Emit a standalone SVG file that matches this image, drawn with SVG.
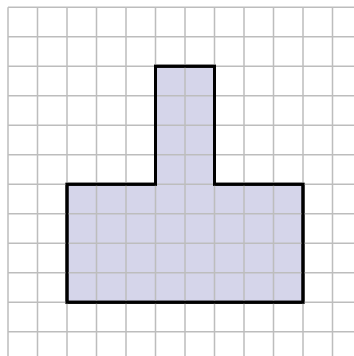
<svg xmlns="http://www.w3.org/2000/svg" width="354" height="356" viewBox="0 0 354 356">
<style>
.g{stroke:#bdbdbd;stroke-width:1.5;fill:none}
.s{fill:#d5d5ea;stroke:#000;stroke-width:3;stroke-linejoin:miter}
</style>
<rect width="354" height="356" fill="#fff"/>
<g id="shape">
<path class="s" d="M67 184.3 H155.5 V66.3 H214.5 V184.3 H303 V302.3 H67 Z"/>
</g>
<g id="grid" class="g">
<path d="M8 7.3V356M37.5 7.3V356M67 7.3V356M96.5 7.3V356M126 7.3V356M155.5 7.3V356M185 7.3V356M214.5 7.3V356M244 7.3V356M273.5 7.3V356M303 7.3V356M332.5 7.3V356"/>
<path d="M8 7.3H354M8 36.8H354M8 66.3H354M8 95.8H354M8 125.3H354M8 154.8H354M8 184.3H354M8 213.8H354M8 243.3H354M8 272.8H354M8 302.3H354M8 331.8H354"/>
</g>
<g id="outline">
<path d="M67 184.3 H155.5 V66.3 H214.5 V184.3 H303 V302.3 H67 Z" fill="none" stroke="#000" stroke-width="3"/>
</g>
</svg>
